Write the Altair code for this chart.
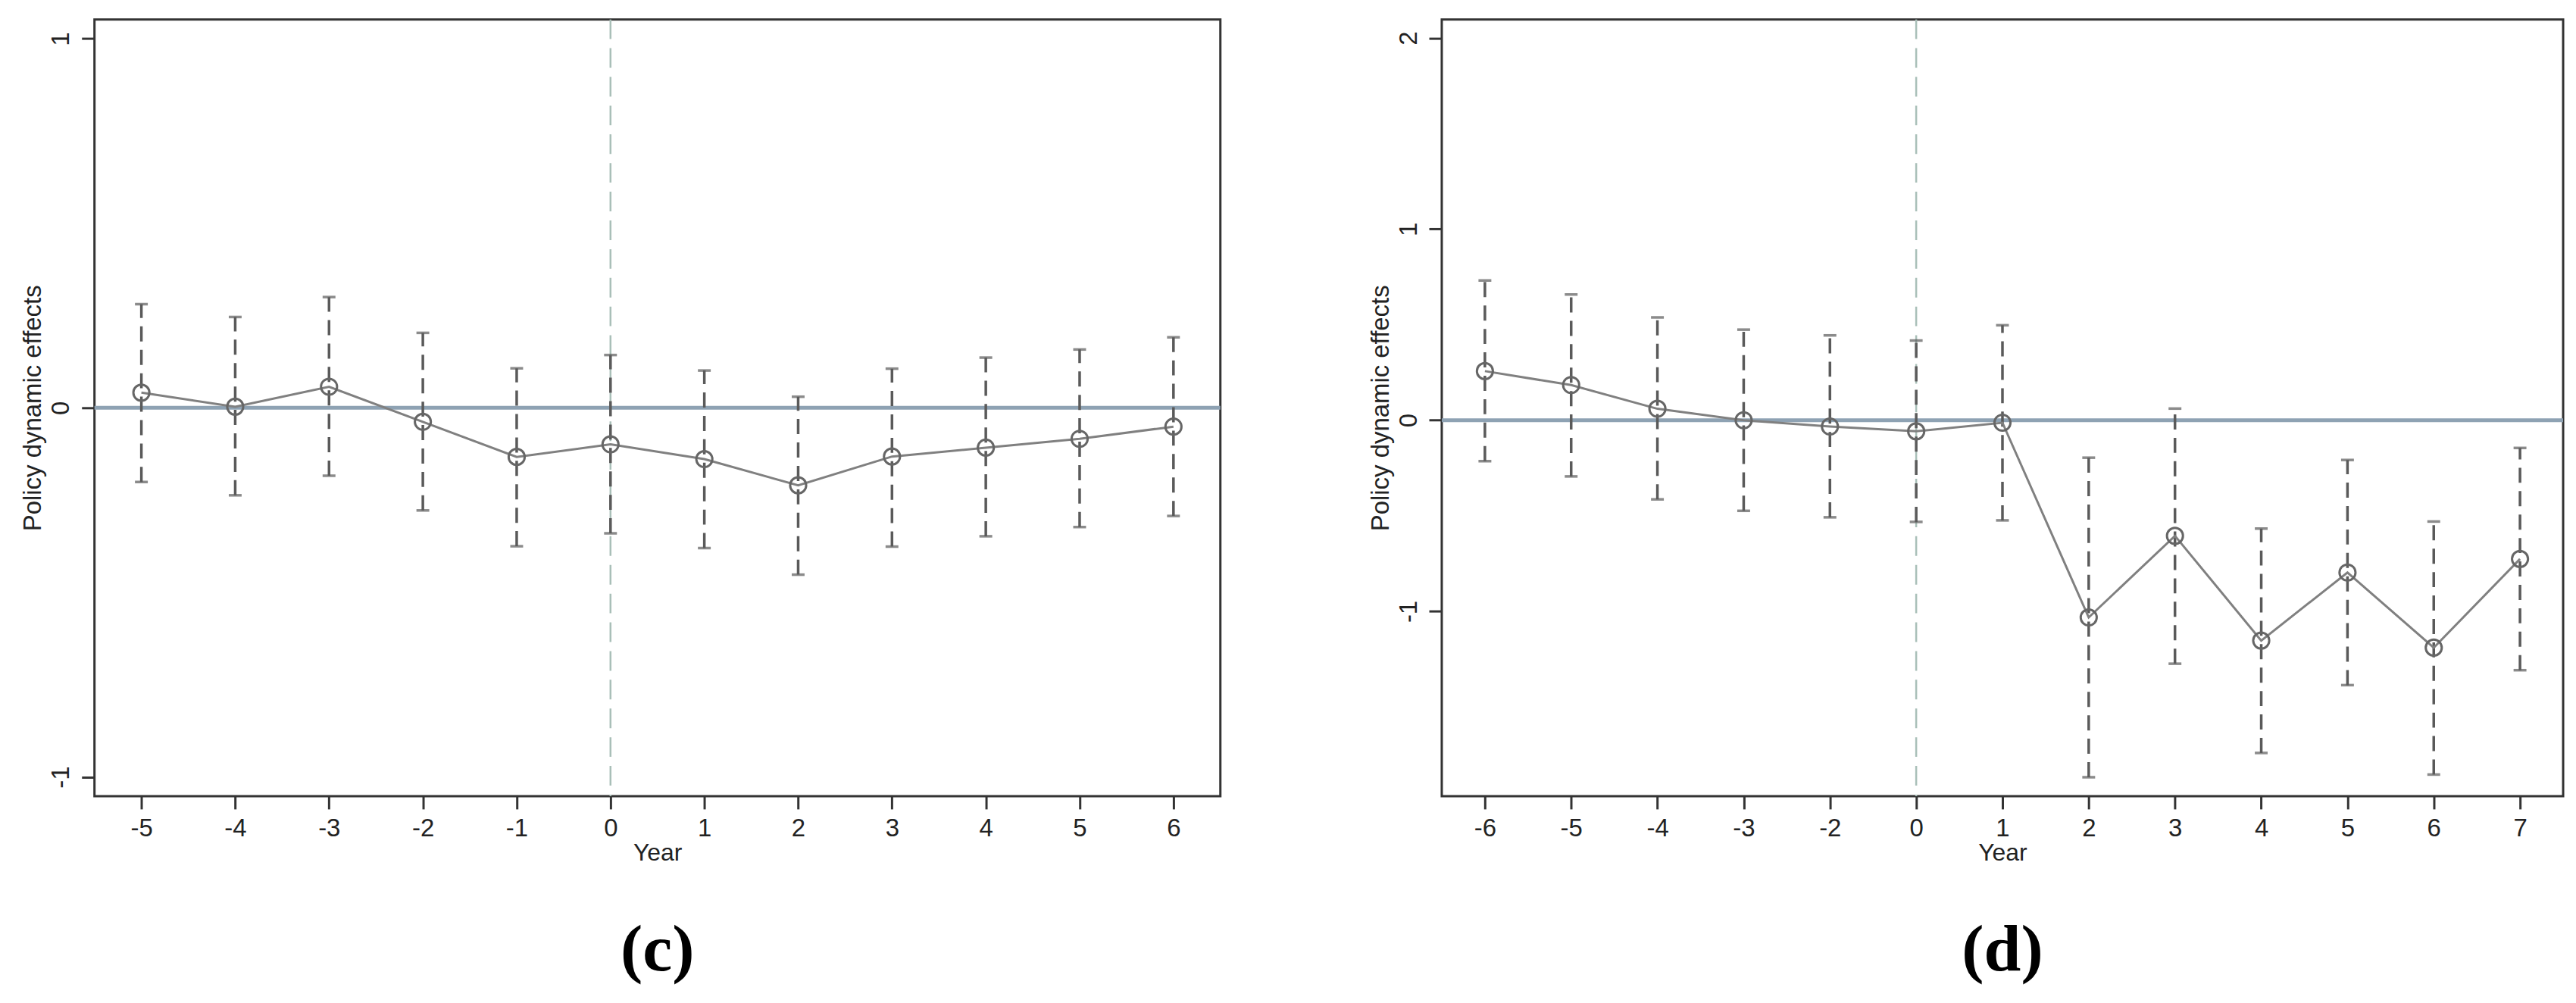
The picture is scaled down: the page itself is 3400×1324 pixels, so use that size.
import altair as alt
import pandas as pd

# ---- Panel (c) ----
years_c = ["-5", "-4", "-3", "-2", "-1", "0", "1", "2", "3", "4", "5", "6"]
coef_c = [0.041, 0.003, 0.057, -0.038, -0.133, -0.099, -0.139, -0.210, -0.132, -0.108, -0.084, -0.051]
upper_c = [0.281, 0.246, 0.300, 0.203, 0.107, 0.143, 0.101, 0.030, 0.106, 0.136, 0.158, 0.191]
lower_c = [-0.201, -0.237, -0.184, -0.278, -0.375, -0.340, -0.380, -0.452, -0.376, -0.348, -0.323, -0.293]
yticks_c = [-1, 0, 1]

# ---- Panel (d) ----
years_d = ["-6", "-5", "-4", "-3", "-2", "0", "1", "2", "3", "4", "5", "6", "7"]
coef_d = [0.257, 0.184, 0.060, 0.000, -0.033, -0.058, -0.013, -1.032, -0.605, -1.153, -0.797, -1.190, -0.726]
upper_d = [0.731, 0.658, 0.538, 0.474, 0.444, 0.417, 0.497, -0.196, 0.061, -0.567, -0.208, -0.530, -0.145]
lower_d = [-0.214, -0.294, -0.414, -0.474, -0.508, -0.532, -0.524, -1.868, -1.274, -1.741, -1.386, -1.854, -1.308]
yticks_d = [-1, 0, 1, 2]

FONT = "Liberation Sans"
FRAME = "#333333"
BAR = "#5a5a5a"


def panel(years, coef, lower, upper, ydom, yticks, caption, width):
    df = pd.DataFrame({"year": years, "coef": coef, "lower": lower, "upper": upper})
    zero_df = pd.DataFrame({"v": [0]})
    vline_df = pd.DataFrame({"year": ["0"]})

    xscale = alt.Scale(type="point", domain=years, padding=0.5)
    yscale = alt.Scale(domain=ydom, nice=False, zero=False)

    x = alt.X(
        "year:O",
        scale=xscale,
        sort=years,
        title="Year",
        axis=alt.Axis(
            labelAngle=0,
            domain=False,
            grid=False,
            ticks=True,
            tickSize=17,
            tickWidth=3,
            tickColor=FRAME,
            labelFont=FONT,
            labelFontSize=33,
            labelColor="#222222",
            labelPadding=10,
            titleFont=FONT,
            titleFontSize=32,
            titleFontWeight="normal",
            titleColor="#222222",
            titlePadding=0,
        ),
    )
    yaxis = alt.Axis(
        values=yticks,
        labelExpr="'' + datum.value",
        domain=False,
        grid=False,
        tickSize=17,
        tickWidth=3,
        tickColor=FRAME,
        labelAngle=270,
        labelAlign="center",
        labelBaseline="bottom",
        labelFont=FONT,
        labelFontSize=33,
        labelColor="#222222",
        labelPadding=10,
        titleFont=FONT,
        titleFontSize=33,
        titleFontWeight="normal",
        titleColor="#222222",
        titlePadding=4,
    )

    zero = alt.Chart(zero_df).mark_rule(color="#8ea2b3", strokeWidth=5).encode(
        y=alt.Y("v:Q", scale=yscale, axis=yaxis, title="Policy dynamic effects")
    )
    vline = alt.Chart(vline_df).mark_rule(
        color="#a9bfb8", strokeWidth=2.5, strokeDash=[26, 12]
    ).encode(x=x)

    base = alt.Chart(df)
    bars = base.mark_rule(color=BAR, strokeWidth=3.5, strokeDash=[20, 11]).encode(
        x=x, y=alt.Y("lower:Q", scale=yscale), y2="upper:Q"
    )
    cap_hi = base.mark_tick(color=BAR, size=17, thickness=3.5, orient="horizontal").encode(
        x=x, y=alt.Y("upper:Q", scale=yscale)
    )
    cap_lo = base.mark_tick(color=BAR, size=17, thickness=3.5, orient="horizontal").encode(
        x=x, y=alt.Y("lower:Q", scale=yscale)
    )
    line = base.mark_line(color="#808080", strokeWidth=3).encode(
        x=x, y=alt.Y("coef:Q", scale=yscale)
    )
    pts = base.mark_point(
        shape="circle", filled=False, size=450, strokeWidth=3, color="#666666", opacity=1
    ).encode(x=x, y=alt.Y("coef:Q", scale=yscale))

    return alt.layer(zero, vline, bars, cap_hi, cap_lo, line, pts).properties(
        width=width,
        height=1028,
        view=alt.ViewConfig(stroke=FRAME, strokeWidth=3),
        title=alt.TitleParams(
            caption,
            orient="bottom",
            font="Liberation Serif",
            fontSize=88,
            fontWeight="bold",
            color="#000000",
            offset=70,
            anchor="middle",
        ),
    )


pc = panel(years_c, coef_c, lower_c, upper_c, [-1.052, 1.052], yticks_c, "(c)", 1490)
pd_ = panel(years_d, coef_d, lower_d, upper_d, [-1.967, 2.097], yticks_d, "(d)", 1484)

chart = (
    alt.hconcat(pc, pd_, spacing=190)
    .resolve_scale(x="independent", y="independent")
    .properties(padding={"left": 18, "top": 13, "right": 5, "bottom": 5}, background="white")
    .configure_view(stroke=FRAME, strokeWidth=3)
)

chart.save("out.html", embed_options={"renderer": "svg", "actions": False})
